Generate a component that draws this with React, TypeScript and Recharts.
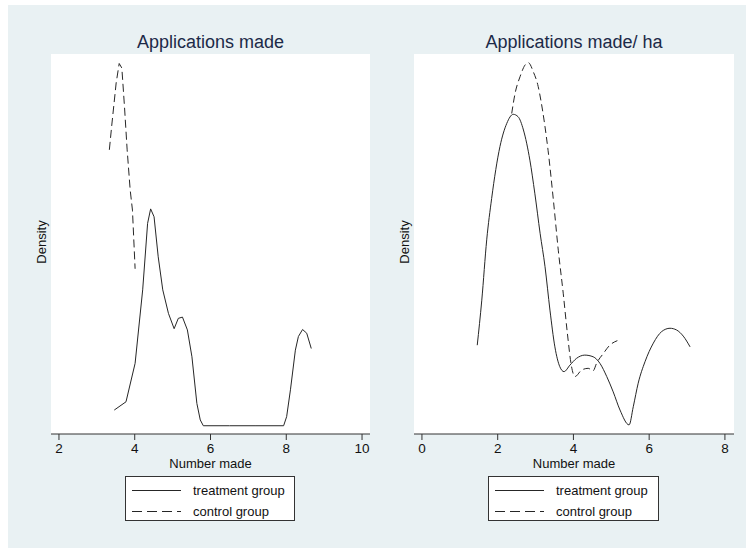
import { CartesianGrid, Line, LineChart, XAxis, YAxis } from "recharts";

// Kernel density traces, x in "number made", y in density units.
const leftTreatX = [3.46, 3.77, 4.01, 4.21, 4.34, 4.42, 4.51, 4.62, 4.74, 4.89, 5.04, 5.15, 5.26, 5.39, 5.51, 5.64, 5.73, 5.81, 6.5, 7.2, 7.93, 8.01, 8.11, 8.24, 8.32, 8.43, 8.54, 8.66];
const leftTreatY = [0.038, 0.058, 0.151, 0.329, 0.49, 0.525, 0.506, 0.409, 0.329, 0.272, 0.235, 0.26, 0.263, 0.232, 0.167, 0.054, 0.014, 0, 0, 0, 0, 0.022, 0.087, 0.183, 0.216, 0.233, 0.224, 0.187];

const leftCtrlX = [3.33, 3.39, 3.51, 3.59, 3.66, 3.73, 3.8, 3.88, 3.94, 4.01];
const leftCtrlY = [0.668, 0.724, 0.83, 0.877, 0.866, 0.772, 0.668, 0.571, 0.522, 0.38];

const rightTreatX = [1.46, 1.58, 1.71, 1.84, 2.06, 2.24, 2.41, 2.54, 2.68, 2.85, 2.98, 3.12, 3.25, 3.38, 3.51, 3.64, 3.75, 3.91, 4.08, 4.3, 4.52, 4.7, 4.88, 5.05, 5.23, 5.47, 5.58, 5.71, 5.89, 6.11, 6.33, 6.55, 6.72, 6.9, 7.08];
const rightTreatY = [0.195, 0.304, 0.45, 0.55, 0.676, 0.732, 0.754, 0.748, 0.716, 0.643, 0.563, 0.466, 0.385, 0.28, 0.191, 0.143, 0.131, 0.147, 0.163, 0.171, 0.167, 0.151, 0.119, 0.082, 0.038, 0.002, 0.046, 0.103, 0.155, 0.2, 0.228, 0.236, 0.232, 0.217, 0.191];

const rightCtrlX = [2.37, 2.46, 2.59, 2.72, 2.81, 2.94, 3.07, 3.14, 3.24, 3.33, 3.47, 3.6, 3.73, 3.84, 3.95, 4.04, 4.22, 4.39, 4.52, 4.61, 4.79, 4.96, 5.16];
const rightCtrlY = [0.756, 0.805, 0.845, 0.873, 0.879, 0.857, 0.821, 0.788, 0.73, 0.667, 0.547, 0.425, 0.321, 0.224, 0.143, 0.119, 0.135, 0.139, 0.133, 0.151, 0.175, 0.195, 0.206];

const leftTicks = [2, 4, 6, 8, 10];
const rightTicks = [0, 2, 4, 6, 8];
const titles = ["Applications made", "Applications made/ ha"];
const seriesNames = ["treatment group", "control group"];

const FONT = '"Liberation Sans", Arial, sans-serif';
const INK = "#262626";

const toPoints = (xs: number[], ys: number[]) => xs.map((x, i) => ({ x, y: ys[i] }));

// Stata-style tick label: slightly larger than recharts' default
function TickLabel(props: any) {
  const { x, y, payload } = props;
  return (
    <text x={x} y={y + 12} textAnchor="middle" fontSize={13.5} fill="#111" fontFamily={FONT}>
      {payload.value}
    </text>
  );
}

function Panel({
  offset,
  title,
  domain,
  ticks,
  treat,
  ctrl,
  curve,
  marginLeft,
  marginRight,
  dash,
  legendLeft,
  legendWidth,
}: {
  offset: number;
  title: string;
  domain: [number, number];
  ticks: number[];
  treat: { x: number; y: number }[];
  ctrl: { x: number; y: number }[];
  curve: "linear" | "monotone";
  marginLeft: number;
  marginRight: number;
  dash: string;
  legendLeft: number;
  legendWidth: number;
}) {
  const plotCenter = (marginLeft + (373 - marginRight)) / 2;
  return (
    <div style={{ position: "absolute", left: offset, top: 0, width: 373, height: 548 }}>
      <div
        style={{
          position: "absolute",
          left: plotCenter,
          top: 32,
          transform: "translateX(-50%)",
          whiteSpace: "nowrap",
          fontSize: 18,
          color: "#1c2a48",
        }}
      >
        {title}
      </div>
      <div
        style={{
          position: "absolute",
          left: marginLeft - 10,
          top: 242,
          transform: "translate(-50%, -50%) rotate(-90deg)",
          fontSize: 13,
          color: "#111",
        }}
      >
        Density
      </div>
      <LineChart
        width={373}
        height={548}
        margin={{ top: 54, left: marginLeft, right: marginRight, bottom: 74 }}
      >
        <CartesianGrid fill="#ffffff" horizontal={false} vertical={false} />
        <XAxis
          type="number"
          dataKey="x"
          domain={domain}
          ticks={ticks}
          allowDataOverflow
          height={40}
          tickSize={6}
          tickMargin={1}
          tick={<TickLabel />}
          tickLine={{ stroke: "#333" }}
          axisLine={{ stroke: "#333" }}
          label={{
            value: "Number made",
            position: "insideBottom",
            offset: 6,
            fontSize: 13,
            fill: "#111",
            fontFamily: FONT,
          }}
        />
        <YAxis
          type="number"
          dataKey="y"
          domain={[-0.02, 0.9]}
          allowDataOverflow
          width={0}
          tick={false}
          tickLine={false}
          axisLine={{ stroke: "#333" }}
        />
        <Line
          data={treat}
          dataKey="y"
          type={curve}
          stroke={INK}
          strokeWidth={1}
          dot={false}
          isAnimationActive={false}
        />
        <Line
          data={ctrl}
          dataKey="y"
          type={curve}
          stroke={INK}
          strokeWidth={1}
          strokeDasharray={dash}
          dot={false}
          isAnimationActive={false}
        />
      </LineChart>
      <div
        style={{
          position: "absolute",
          left: legendLeft,
          top: 476,
          width: legendWidth,
          height: 45,
          boxSizing: "border-box",
          border: "1px solid #333",
          background: "#fff",
          fontSize: 13,
          color: "#111",
        }}
      >
        {seriesNames.map((name, i) => (
          <div
            key={name}
            style={{
              position: "absolute",
              left: 0,
              top: i === 0 ? 4 : 25,
              height: 18,
              display: "flex",
              alignItems: "center",
            }}
          >
            <svg width={62} height={18} style={{ display: "block" }}>
              <line
                x1={6}
                x2={55}
                y1={9.5}
                y2={9.5}
                stroke={INK}
                strokeWidth={1}
                strokeDasharray={i === 0 ? undefined : "10 5"}
              />
            </svg>
            <span style={{ marginLeft: 5, whiteSpace: "nowrap" }}>{name}</span>
          </div>
        ))}
      </div>
    </div>
  );
}

export default function App() {
  return (
    <div
      style={{
        position: "absolute",
        left: 0,
        top: 0,
        width: 746,
        height: 548,
        background: "#ffffff",
        fontFamily: FONT,
        overflow: "hidden",
      }}
    >
      <div
        style={{ position: "absolute", left: 8, top: 5, width: 738, height: 543, background: "#e9f1f3" }}
      />
      <Panel
        offset={0}
        title={titles[0]}
        domain={[1.79, 10.21]}
        ticks={leftTicks}
        treat={toPoints(leftTreatX, leftTreatY)}
        ctrl={toPoints(leftCtrlX, leftCtrlY)}
        curve="linear"
        marginLeft={51}
        marginRight={3}
        dash="8 4"
        legendLeft={125}
        legendWidth={170}
      />
      <Panel
        offset={373}
        title={titles[1]}
        domain={[-0.21, 8.24]}
        ticks={rightTicks}
        treat={toPoints(rightTreatX, rightTreatY)}
        ctrl={toPoints(rightCtrlX, rightCtrlY)}
        curve="monotone"
        marginLeft={41}
        marginRight={12}
        dash="7 4"
        legendLeft={115}
        legendWidth={171}
      />
    </div>
  );
}
